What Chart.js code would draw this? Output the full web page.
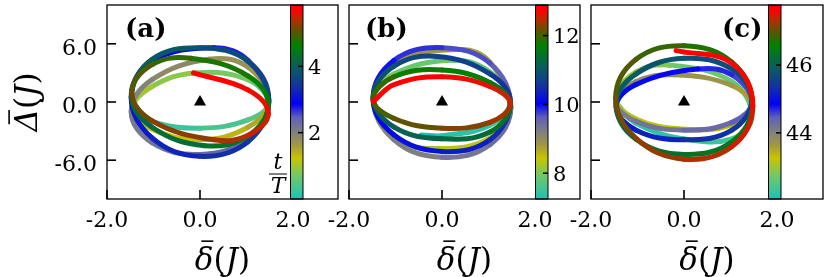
<!DOCTYPE html>
<html><head><meta charset="utf-8">
<script src="https://cdn.jsdelivr.net/npm/chart.js@4.4.0/dist/chart.umd.min.js"></script>
<style>
html,body{margin:0;padding:0;background:#fff;}
#wrap{position:relative;width:830px;height:277px;overflow:hidden;background:#fff;}
#wrap canvas{position:absolute;left:0;top:0;}
</style></head><body>
<div id="wrap">
<canvas id="pa" width="830" height="277"></canvas>
<canvas id="pb" width="830" height="277"></canvas>
<canvas id="pc" width="830" height="277"></canvas>
</div>
<script>
// ---------------- data ----------------
// panel (a): time t/T, delta-bar, Delta-bar
const tA = [0.00,0.175,0.30,0.425,0.55,0.675,0.80,0.925,
  1.05,1.175,1.30,1.425,1.55,1.675,1.80,1.925,
  2.05,2.175,2.30,2.425,2.55,2.675,2.80,2.925,
  3.05,3.175,3.30,3.425,3.55,3.675,3.80,3.925,
  4.05,4.175,4.30,4.425,4.55,4.675,4.80,4.925,
  5.05,5.175,5.30,5.425,5.55,5.675,5.80];
const xA = [-1.42,-1.03,0.00,1.03,1.47,1.03,-0.10,-1.03,
  -1.46,-1.03,0.00,1.03,1.47,1.03,0.20,-1.03,
  -1.48,-1.03,0.00,1.03,1.48,1.03,0.30,-1.03,
  -1.48,-1.03,0.00,1.03,1.48,1.03,0.00,-1.03,
  -1.47,-1.03,0.10,1.03,1.47,1.03,-0.20,-1.03,
  -1.47,-1.03,0.30,1.03,1.47,1.03,-0.14];
const yA = [-0.5,-2.0,-2.7,-1.85,-0.1,2.3,3.0,1.6,
  -0.8,-2.8,-3.9,-2.6,0.0,3.6,4.4,2.3,
  -1.0,-4.2,-5.4,-3.8,0.0,4.3,5.6,4.2,
  0.5,-3.7,-5.6,-4.1,0.2,4.2,5.6,4.4,
  0.6,-2.6,-4.5,-3.5,-0.3,2.7,4.5,3.85,
  1.0,-1.95,-3.9,-3.45,-1.2,1.25,3.0];

// panel (b)
const tB = [7.25,7.31,7.43,7.56,7.68,7.80,7.93,
  8.05,8.17,8.29,8.41,8.54,8.66,8.78,8.90,
  9.03,9.15,9.27,9.39,9.52,9.64,9.76,9.88,
  10.01,10.13,10.25,10.37,10.50,10.62,10.74,10.86,
  10.99,11.11,11.23,11.35,11.48,11.60,11.72,11.84,
  11.97,12.09,12.21,12.33,12.45,12.58,12.70,12.80,12.90];
const xB = [-0.45,0.05,1.03,1.46,1.03,0.25,-1.03,
  -1.48,-1.03,0.00,1.03,1.48,1.03,0.40,-1.03,
  -1.48,-1.03,0.00,1.03,1.48,1.03,0.00,-1.03,
  -1.48,-1.03,0.00,1.03,1.47,1.03,-0.10,-1.03,
  -1.48,-1.03,0.00,1.03,1.47,1.03,0.00,-1.03,
  -1.48,-1.03,0.00,1.03,1.47,1.03,0.00,-1.03,-1.48];
const yB = [-3.4,-3.45,-2.4,0.0,3.1,4.3,2.9,
  0.3,-3.8,-4.8,-3.7,-0.6,4.1,5.4,4.0,
  0.6,-3.9,-5.7,-4.4,-0.5,4.0,5.6,4.3,
  0.3,-3.4,-5.1,-3.9,0.0,2.9,4.7,3.7,
  0.5,-2.6,-3.8,-3.1,-0.3,2.0,3.3,2.6,
  0.3,-1.7,-2.7,-2.1,-0.2,1.6,2.6,1.8,0.05];

// panel (c)
const tC = [42.06,42.135,42.26,42.385,42.51,42.635,42.76,42.885,
  43.01,43.135,43.26,43.385,43.51,43.635,43.76,43.885,
  44.01,44.135,44.26,44.385,44.51,44.635,44.76,44.885,
  45.01,45.135,45.26,45.385,45.51,45.635,45.76,45.885,
  46.01,46.135,46.26,46.385,46.51,46.635,46.76,46.885,
  47.01,47.135,47.26,47.385,47.51,47.635,47.76];
const xC = [-1.44,-1.03,0.00,1.03,1.46,1.03,-0.30,-1.03,
  -1.46,-1.03,0.00,1.03,1.46,1.03,-0.20,-1.03,
  -1.46,-1.03,0.00,1.03,1.46,1.03,0.30,-1.03,
  -1.46,-1.03,0.00,1.03,1.46,1.03,0.00,-1.03,
  -1.46,-1.03,0.00,1.03,1.47,1.03,0.00,-1.03,
  -1.47,-1.03,0.00,1.03,1.48,1.03,-0.17];
const yC = [-0.2,-2.2,-3.8,-3.8,-1.5,2.1,3.8,3.1,
  0.4,-1.75,-2.8,-2.35,-0.4,1.7,2.8,2.1,
  0.0,-2.0,-2.9,-2.1,0.0,2.8,3.4,1.8,
  -0.5,-2.9,-3.9,-2.9,0.3,3.4,4.5,2.9,
  -0.2,-3.85,-5.4,-4.1,-0.2,4.1,5.8,4.4,
  0.4,-3.75,-5.9,-4.6,-0.4,4.0,5.3];

// marker at the origin
const markerX = [0];
const markerY = [0];

// ticks
const xTickVals = [-2, 0, 2];
const xTickLabels = ['-2.0', '0.0', '2.0'];
const yTickVals = [-6, 0, 6];
const yTickLabels = ['-6.0', '0.0', '6.0'];
const cbTicksA = [2, 4];      const cbLabelsA = ['2', '4'];
const cbTicksB = [8, 10, 12]; const cbLabelsB = ['8', '10', '12'];
const cbTicksC = [44, 46];    const cbLabelsC = ['44', '46'];
const cbRangeA = [0, 5.85];
const cbRangeB = [7.25, 12.89];
const cbRangeC = [42.05, 47.77];
const panelTags = ['(a)', '(b)', '(c)'];

// ---------------- colormap (style) ----------------
const cmapStops = [
  [0.00,[32,192,184]],[0.12,[112,200,104]],[0.21,[200,196,0]],[0.28,[160,150,70]],
  [0.345,[128,128,128]],[0.42,[96,96,184]],[0.49,[0,0,250]],[0.58,[20,50,160]],
  [0.67,[10,90,100]],[0.79,[0,130,0]],[0.87,[100,80,0]],[0.93,[190,40,0]],
  [0.97,[255,0,0]],[1.00,[255,0,0]]
];
function rgbStr(c){return 'rgb('+Math.round(c[0])+','+Math.round(c[1])+','+Math.round(c[2])+')';}
function cmap(f){
  f = Math.max(0, Math.min(1, f));
  for (let i = 1; i < cmapStops.length; i++) {
    if (f <= cmapStops[i][0]) {
      const a = cmapStops[i-1], b = cmapStops[i];
      const u = (f - a[0]) / (b[0] - a[0] || 1);
      return rgbStr([0,1,2].map(k => a[1][k] + (b[1][k]-a[1][k])*u));
    }
  }
  return rgbStr(cmapStops[cmapStops.length-1][1]);
}

const SERIF = '"DejaVu Serif", serif';

// draws a row of text pieces centred on cx; pieces with bar:true get an overbar
function drawPieces(ctx, pieces, cx, base, size){
  let w = 0;
  pieces.forEach(p => { ctx.font = p.f; p.w = ctx.measureText(p.t).width; w += p.w; });
  let x = cx - w/2;
  ctx.textAlign = 'left'; ctx.textBaseline = 'alphabetic';
  pieces.forEach(p => {
    ctx.font = p.f; ctx.fillText(p.t, x, base);
    if (p.bar) {
      const yb = base - p.barH * size;
      ctx.lineWidth = 1.6;
      ctx.beginPath();
      ctx.moveTo(x + p.w * 0.28 + p.barS * size, yb);
      ctx.lineTo(x + p.w * 0.92 + p.barS * size, yb);
      ctx.stroke();
    }
    x += p.w;
  });
}

function makeDeco(p){
  return {
    id: 'deco' + p.id,
    afterDatasetsDraw(chart){
      const ctx = chart.ctx, ca = chart.chartArea;
      const bx = ca.right - p.barW;
      ctx.save();
      const g = ctx.createLinearGradient(0, ca.bottom, 0, ca.top);
      cmapStops.forEach(s => g.addColorStop(s[0], rgbStr(s[1])));
      ctx.fillStyle = g;
      ctx.fillRect(bx, ca.top, p.barW, ca.bottom - ca.top);
      ctx.strokeStyle = '#000'; ctx.lineWidth = 1;
      ctx.strokeRect(bx + 0.5, ca.top, p.barW - 0.5, ca.bottom - ca.top);
      const cb = chart.scales.cb;
      ctx.lineWidth = 1.5;
      p.cbTicks.forEach(v => {
        const y = cb.getPixelForValue(v);
        ctx.beginPath(); ctx.moveTo(ca.right - 5, y); ctx.lineTo(ca.right, y); ctx.stroke();
      });
      ctx.restore();
    },
    afterDraw(chart){
      const ctx = chart.ctx, ca = chart.chartArea;
      const sx = chart.scales.x, sy = chart.scales.y, cb = chart.scales.cb;
      ctx.save();
      ctx.strokeStyle = '#000'; ctx.fillStyle = '#000';
      // inward ticks
      ctx.lineWidth = 1.6;
      yTickVals.forEach(v => {
        const y = sy.getPixelForValue(v);
        ctx.beginPath(); ctx.moveTo(ca.left, y); ctx.lineTo(ca.left + 9, y); ctx.stroke();
      });
      xTickVals.forEach(v => {
        const x = sx.getPixelForValue(v);
        if (x > ca.right - p.barW - 1) return;
        ctx.beginPath(); ctx.moveTo(x, ca.bottom); ctx.lineTo(x, ca.bottom - 9); ctx.stroke();
      });
      // frame
      ctx.lineWidth = 1.3;
      ctx.strokeRect(ca.left, ca.top, cb.right - ca.left, ca.bottom - ca.top);
      // panel tag
      ctx.font = 'bold 26px ' + SERIF;
      ctx.textAlign = 'left'; ctx.textBaseline = 'alphabetic';
      ctx.fillText(p.tag, p.tagX, 37);
      // x title
      const fx = (ca.left + cb.right) / 2;
      drawPieces(ctx, [
        {t:'\u03B4', f:'italic 31px ' + SERIF, bar: true, barH: 0.93, barS: 0.04},
        {t:'(', f:'31px ' + SERIF},
        {t:'J', f:'italic 31px ' + SERIF},
        {t:')', f:'31px ' + SERIF}
      ], fx, 270, 31);
      if (p.showY) {
        ctx.save();
        ctx.translate(37, (ca.top + ca.bottom) / 2);
        ctx.rotate(-Math.PI/2);
        drawPieces(ctx, [
          {t:'\u0394', f:'italic 31px ' + SERIF, bar: true, barH: 0.9, barS: 0.03},
          {t:'(', f:'31px ' + SERIF},
          {t:'J', f:'italic 31px ' + SERIF},
          {t:')', f:'31px ' + SERIF}
        ], 0, 0, 31);
        ctx.restore();
        // t/T fraction
        ctx.font = 'italic 22px ' + SERIF;
        ctx.textAlign = 'center'; ctx.textBaseline = 'alphabetic';
        ctx.fillText('t', 278, 169);
        ctx.fillText('T', 278, 193);
        ctx.lineWidth = 1;
        ctx.beginPath(); ctx.moveTo(269, 174); ctx.lineTo(287, 174); ctx.stroke();
      }
      ctx.restore();
    }
  };
}

function makeChart(p){
  const pts = p.x.map((v, i) => ({x: v, y: p.y[i]}));
  const mk = markerX.map((v, i) => ({x: v, y: markerY[i]}));
  const segCol = i => {
    const tm = (p.t[i] + p.t[i+1]) / 2;
    return cmap((tm - p.cb[0]) / (p.cb[1] - p.cb[0]));
  };
  const tickFont = {family: SERIF, size: 22};
  const zeroPad = s => { s.paddingLeft = 0; s.paddingRight = 0; s.paddingTop = 0; s.paddingBottom = 0; };
  return new Chart(document.getElementById(p.id), {
    type: 'line',
    data: {datasets: [
      {data: mk, showLine: false, pointStyle: 'triangle', pointRadius: 7,
       pointBackgroundColor: '#000', pointBorderWidth: 0, order: 0},
      {data: pts, borderWidth: 5, pointRadius: 0, tension: 0.4,
       borderCapStyle: 'round', borderJoinStyle: 'round', borderColor: '#000', fill: false,
       segment: {borderColor: ctx => segCol(ctx.p0DataIndex)}, order: 1}
    ]},
    options: {
      responsive: false, animation: false, events: [],
      layout: {autoPadding: false, padding: {left: p.padL, right: p.padR, top: 5, bottom: 0}},
      plugins: {legend: {display: false}, tooltip: {enabled: false}},
      scales: {
        x: {type: 'linear', position: 'bottom', min: -2, max: p.xMax,
            afterBuildTicks: s => { s.ticks = xTickVals.map(v => ({value: v})); },
            afterFit: s => { s.height = 78; zeroPad(s); },
            grid: {display: false, drawTicks: false}, border: {display: false},
            ticks: {color: '#000', font: tickFont, padding: 9, autoSkip: false, maxRotation: 0,
                    callback: (v, i) => xTickLabels[i]}},
        y: {type: 'linear', position: 'left', min: -10, max: 10,
            afterBuildTicks: s => { s.ticks = yTickVals.map(v => ({value: v})); },
            afterFit: s => { s.width = p.yW; zeroPad(s); },
            grid: {display: false, drawTicks: false}, border: {display: false},
            ticks: {display: p.showY, color: '#000', font: tickFont, padding: 10, labelOffset: 5,
                    callback: (v, i) => yTickLabels[i]}},
        cb: {type: 'linear', position: 'right', min: p.cb[0], max: p.cb[1],
            afterBuildTicks: s => { s.ticks = p.cbTicks.map(v => ({value: v})); },
            afterFit: s => { s.width = p.cbW; zeroPad(s); },
            grid: {display: false, drawTicks: false}, border: {display: false},
            ticks: {color: '#000', font: {family: SERIF, size: 21}, padding: 5, labelOffset: 2,
                    callback: (v, i) => p.cbLabels[i]}}
      }
    },
    plugins: [makeDeco(p)]
  });
}

const panels = [
  {id: 'pa', tag: panelTags[0], t: tA, x: xA, y: yA, cb: cbRangeA, cbTicks: cbTicksA, cbLabels: cbLabelsA,
   padL: 0, yW: 107, padR: 492, cbW: 35, barW: 13, xMax: 2.215, showY: true, tagX: 125},
  {id: 'pb', tag: panelTags[1], t: tB, x: xB, y: yB, cb: cbRangeB, cbTicks: cbTicksB, cbLabels: cbLabelsB,
   padL: 349, yW: 0, padR: 250, cbW: 32, barW: 13, xMax: 2.28, showY: false, tagX: 365},
  {id: 'pc', tag: panelTags[2], t: tC, x: xC, y: yC, cb: cbRangeC, cbTicks: cbTicksC, cbLabels: cbLabelsC,
   padL: 591, yW: 0, padR: 7, cbW: 42, barW: 13, xMax: 2.086, showY: false, tagX: 722}
];
panels.forEach(makeChart);
</script>
</body></html>
